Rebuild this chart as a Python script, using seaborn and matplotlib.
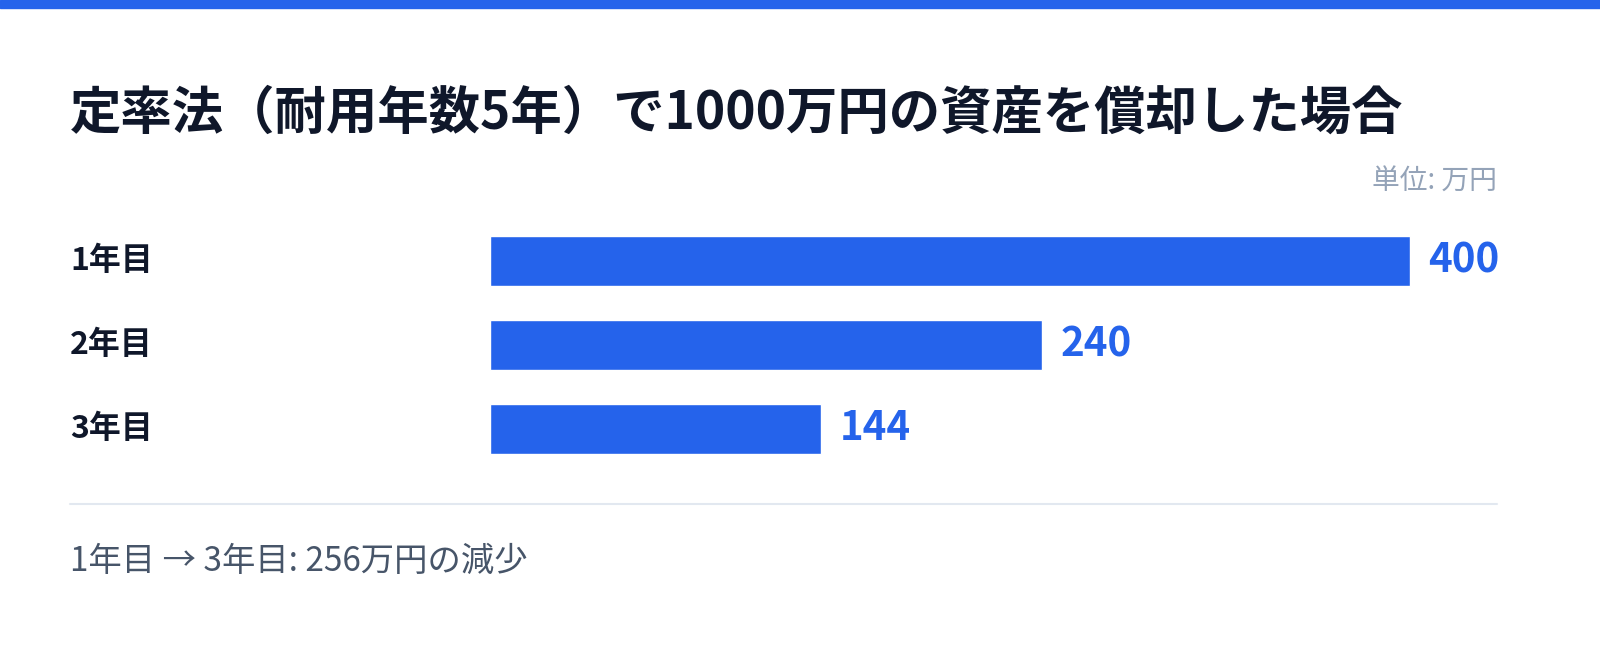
import matplotlib
matplotlib.use("Agg")
import matplotlib.pyplot as plt
import pandas as pd
import seaborn as sns

years = ["1年目", "2年目", "3年目"]
depreciation = [400, 240, 144]
title = "定率法（耐用年数5年）で1000万円の資産を償却した場合"
unit_label = "単位: 万円"
footer = "1年目 → 3年目: 256万円の減少"

BLUE = "#2563eb"
DARK = "#0f172a"

sns.set_theme(style="white")
plt.rcParams['font.family'] = ['Noto Sans CJK JP', 'DejaVu Sans']

W, H = 1600, 647
fig = plt.figure(figsize=(W / 100, H / 100), dpi=100)
fig.patch.set_facecolor("white")

def fx(px):
    return px / W

def fy(py):
    return 1 - py / H

# blue strip at the top
fig.patches.append(plt.Rectangle((0, fy(8)), 1, 8 / H, transform=fig.transFigure,
                                 color=BLUE, zorder=5))

df = pd.DataFrame({"year": years, "value": depreciation})

ax = fig.add_axes([fx(490), fy(471), fx(1497) - fx(490), fy(219) - fy(471)])
sns.barplot(data=df, x="value", y="year", orient="h", color=BLUE, width=0.595,
            saturation=1, ax=ax)
ax.set_xlim(0, (1497 - 490) / 2.3)
ax.set_ylim(2.5, -0.5)
ax.axis("off")

for i, (lab, v) in enumerate(zip(years, depreciation)):
    ax.text(v + 8, i, str(v), va="center", ha="left", color=BLUE,
            fontsize=29, fontweight="bold")
    ax.annotate(lab, xy=(fx(70), i), xycoords=("figure fraction", "data"),
                va="center", ha="left", color=DARK, fontsize=23, fontweight="bold")

fig.text(fx(70), fy(113), title, va="center", ha="left", color=DARK,
         fontsize=37, fontweight="bold")
fig.text(fx(1497), fy(182), unit_label, va="center", ha="right", color="#94a3b8",
         fontsize=20)

fig.add_artist(plt.Line2D([fx(70), fx(1497)], [fy(504), fy(504)],
                          transform=fig.transFigure, color="#e2e8f0", linewidth=1.5))

fig.text(fx(70), fy(561), footer, va="center", ha="left", color="#475569",
         fontsize=24)

fig.savefig("out.png", dpi=100, facecolor="white")
